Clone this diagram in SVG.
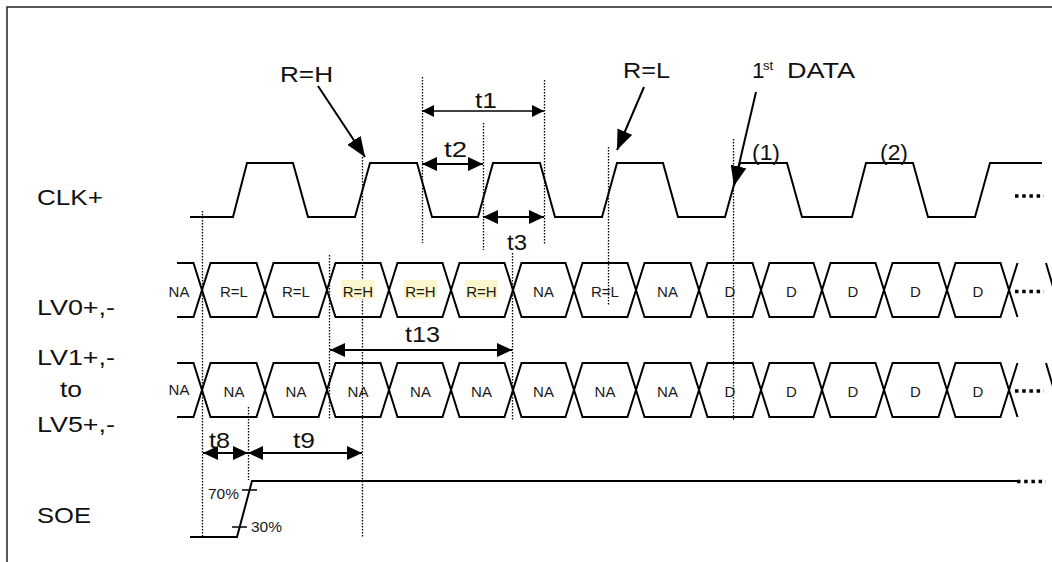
<svg xmlns="http://www.w3.org/2000/svg" width="1052" height="562" viewBox="0 0 1052 562">
<defs>
<style>
.lbl{font-family:"Liberation Sans",Arial,sans-serif;font-size:22.5px;fill:#111}
.cell{font-family:"Liberation Sans",Arial,sans-serif;font-size:15px;fill:#1a1a1a;text-anchor:middle}
.pct{font-family:"Liberation Sans",Arial,sans-serif;font-size:14.5px;fill:#1a1a1a}
.wave{fill:none;stroke:#000;stroke-width:2;stroke-linejoin:miter}
.dot{fill:none;stroke:#000;stroke-width:1.3;stroke-dasharray:1.5 1.5}
.more{fill:none;stroke:#000;stroke-width:3.5;stroke-dasharray:3.5 3.7}
.dim1{fill:none;stroke:#000;stroke-width:1.3;marker-start:url(#hs);marker-end:url(#hs)}
.dim2{fill:none;stroke:#000;stroke-width:2;marker-start:url(#hm);marker-end:url(#hm)}
.ptr{fill:none;stroke:#000;stroke-width:2;marker-end:url(#hb)}
.hl{fill:#FBF6CB}
</style>
<marker id="hs" viewBox="0 0 12 12" refX="12" refY="6" markerWidth="12" markerHeight="12" orient="auto-start-reverse" markerUnits="userSpaceOnUse"><path d="M0,0 L12,6 L0,12 z" fill="#000"/></marker>
<marker id="hm" viewBox="0 0 15 14" refX="15" refY="7" markerWidth="15" markerHeight="14" orient="auto-start-reverse" markerUnits="userSpaceOnUse"><path d="M0,0 L15,7 L0,14 z" fill="#000"/></marker>
<marker id="hb" viewBox="0 0 20 16" refX="20" refY="8" markerWidth="20" markerHeight="16" orient="auto" markerUnits="userSpaceOnUse"><path d="M0,0 L20,8 L0,16 z" fill="#000"/></marker>
<path id="railA" d="M177,263 H193.5 L210.5,317 H256.5 L273.5,263 H318.5 L335.5,317 H380.5 L397.5,263 H442.5 L459.5,317 H504.5 L521.5,263 H565.5 L582.5,317 H627.5 L644.5,263 H690.5 L707.5,317 H752.5 L769.5,263 H813.5 L830.5,317 H875.5 L892.5,263 H938.5 L955.5,317 H1000.5 L1017.5,263 M1046,263 L1062,317"/>
<path id="railB" d="M177,317 H193.5 L210.5,263 H256.5 L273.5,317 H318.5 L335.5,263 H380.5 L397.5,317 H442.5 L459.5,263 H504.5 L521.5,317 H565.5 L582.5,263 H627.5 L644.5,317 H690.5 L707.5,263 H752.5 L769.5,317 H813.5 L830.5,263 H875.5 L892.5,317 H938.5 L955.5,263 H1000.5 L1017.5,317"/>
</defs>
<rect width="1052" height="562" fill="#fff"/>
<g id="frame"><path d="M7,562 V7 H1052" fill="none" stroke="#222" stroke-width="1.5"/></g>

<g id="signal-labels">
<text class="lbl" x="37" y="205" textLength="66" lengthAdjust="spacingAndGlyphs">CLK+</text>
<text class="lbl" x="37" y="315" textLength="78" lengthAdjust="spacingAndGlyphs">LV0+,-</text>
<text class="lbl" x="37" y="365" textLength="78" lengthAdjust="spacingAndGlyphs">LV1+,-</text>
<text class="lbl" x="60" y="397" textLength="22" lengthAdjust="spacingAndGlyphs">to</text>
<text class="lbl" x="37" y="432" textLength="78" lengthAdjust="spacingAndGlyphs">LV5+,-</text>
<text class="lbl" x="37" y="522.5" textLength="54" lengthAdjust="spacingAndGlyphs">SOE</text>
</g>

<g id="guides">
<line class="dot" x1="202.5" y1="211" x2="202.5" y2="537"/>
<line class="dot" x1="248.5" y1="407" x2="248.5" y2="480"/>
<line class="dot" x1="329.5" y1="255" x2="329.5" y2="420"/>
<line class="dot" x1="362.5" y1="157" x2="362.5" y2="537"/>
<line class="dot" x1="422.5" y1="77" x2="422.5" y2="243"/>
<line class="dot" x1="483.5" y1="123" x2="483.5" y2="250"/>
<line class="dot" x1="544.5" y1="80" x2="544.5" y2="245"/>
<line class="dot" x1="512.5" y1="253" x2="512.5" y2="420"/>
<line class="dot" x1="608.5" y1="147" x2="608.5" y2="305"/>
<line class="dot" x1="733.5" y1="139" x2="733.5" y2="420"/>
</g>

<g id="clk">
<path class="wave" d="M190,217 H233 L247,163 H293 L308,217 H355 L370,163 H417 L432,217 H478 L493,163 H540 L555,217 H602 L617,163 H663 L678,217 H725 L740,163 H787 L802,217 H852 L866,163 H913 L928,217 H975 L990,163 H1042"/>
<line class="more" x1="1015" y1="196" x2="1044" y2="196"/>
<text class="lbl" x="752" y="160" textLength="28" lengthAdjust="spacingAndGlyphs">(1)</text>
<text class="lbl" x="880" y="160" textLength="28" lengthAdjust="spacingAndGlyphs">(2)</text>
</g>

<g id="lv0">
<rect class="hl" x="341.5" y="280" width="33" height="19"/>
<rect class="hl" x="404" y="280" width="33" height="19"/>
<rect class="hl" x="465" y="280" width="33" height="19"/>
<use href="#railA" class="wave"/>
<use href="#railB" class="wave"/>
<line class="more" x1="1015" y1="291.5" x2="1044" y2="291.5"/>
<text class="cell" x="179" y="296.5" font-size="14">NA</text>
<text class="cell" x="234" y="296.5">R=L</text>
<text class="cell" x="296" y="296.5">R=L</text>
<text class="cell" x="358" y="296.5">R=H</text>
<text class="cell" x="420.5" y="296.5">R=H</text>
<text class="cell" x="481.5" y="296.5">R=H</text>
<text class="cell" x="543.5" y="296.5">NA</text>
<text class="cell" x="605" y="296.5">R=L</text>
<text class="cell" x="667.5" y="296.5">NA</text>
<text class="cell" x="730" y="296.5">D</text>
<text class="cell" x="791.5" y="296.5">D</text>
<text class="cell" x="853" y="296.5">D</text>
<text class="cell" x="915.5" y="296.5">D</text>
<text class="cell" x="978" y="296.5">D</text>
</g>

<g id="lv1-5">
<g transform="translate(0,100)">
<use href="#railA" class="wave"/>
<use href="#railB" class="wave"/>
</g>
<line class="more" x1="1015" y1="391" x2="1044" y2="391"/>
<text class="cell" x="179" y="395" font-size="14">NA</text>
<text class="cell" x="234" y="397">NA</text>
<text class="cell" x="296" y="397">NA</text>
<text class="cell" x="358" y="397">NA</text>
<text class="cell" x="420.5" y="397">NA</text>
<text class="cell" x="481.5" y="397">NA</text>
<text class="cell" x="543.5" y="397">NA</text>
<text class="cell" x="605" y="397">NA</text>
<text class="cell" x="667.5" y="397">NA</text>
<text class="cell" x="730" y="397">D</text>
<text class="cell" x="791.5" y="397">D</text>
<text class="cell" x="853" y="397">D</text>
<text class="cell" x="915.5" y="397">D</text>
<text class="cell" x="978" y="397">D</text>
</g>

<g id="soe">
<path class="wave" d="M190,537 H237 L252,481 H1017"/>
<line class="more" x1="1017" y1="481.5" x2="1046" y2="481.5"/>
<path d="M242,490 H257 M232,527 H247" stroke="#000" stroke-width="1.5" fill="none"/>
<text class="pct" x="208" y="499" textLength="31" lengthAdjust="spacingAndGlyphs">70%</text>
<text class="pct" x="251" y="532" textLength="31" lengthAdjust="spacingAndGlyphs">30%</text>
</g>

<g id="connectors">
<line class="ptr" x1="318" y1="86" x2="365" y2="157"/>
<line class="ptr" x1="644" y1="87" x2="617" y2="150"/>
<line class="ptr" x1="756" y1="92" x2="734" y2="186"/>
<line class="dim1" x1="422" y1="111" x2="544" y2="111"/>
<line class="dim2" x1="422" y1="164" x2="483" y2="164"/>
<line class="dim2" x1="483" y1="217" x2="544" y2="217"/>
<line class="dim2" x1="330" y1="350" x2="512" y2="350"/>
<line class="dim2" x1="203" y1="453" x2="248" y2="453"/>
<line class="dim2" x1="248" y1="453" x2="362" y2="453"/>
</g>

<g id="annotations">
<text class="lbl" x="280" y="82" textLength="53" lengthAdjust="spacingAndGlyphs">R=H</text>
<text class="lbl" x="623" y="78" textLength="47" lengthAdjust="spacingAndGlyphs">R=L</text>
<text class="lbl"><tspan x="752" y="78">1</tspan><tspan x="763" y="70" font-size="13">st</tspan><tspan x="787" y="78" textLength="68" lengthAdjust="spacingAndGlyphs">DATA</tspan></text>
<text class="lbl" x="475" y="108" textLength="22" lengthAdjust="spacingAndGlyphs">t1</text>
<text class="lbl" x="444" y="157" textLength="23" lengthAdjust="spacingAndGlyphs">t2</text>
<text class="lbl" x="507" y="250" textLength="20" lengthAdjust="spacingAndGlyphs">t3</text>
<text class="lbl" x="405" y="342" textLength="35" lengthAdjust="spacingAndGlyphs">t13</text>
<text class="lbl" x="209" y="448" textLength="21" lengthAdjust="spacingAndGlyphs">t8</text>
<text class="lbl" x="293" y="448" textLength="22" lengthAdjust="spacingAndGlyphs">t9</text>
</g>
</svg>
